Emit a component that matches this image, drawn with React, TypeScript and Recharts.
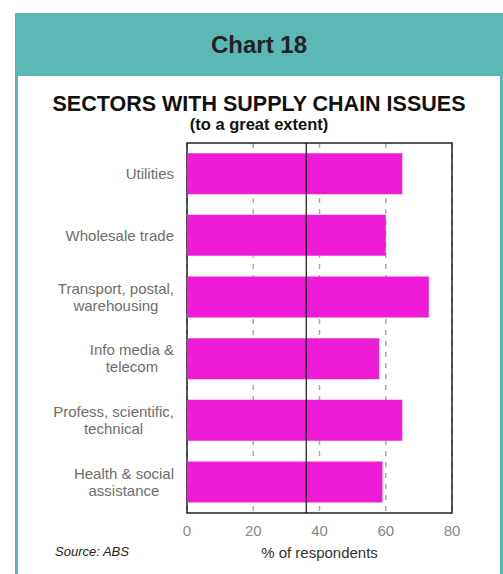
import React from 'react';
import { BarChart, Bar, XAxis, YAxis, CartesianGrid, ReferenceLine, ReferenceArea } from 'recharts';

// sectors, top to bottom
const sectors = [
  'Utilities',
  'Wholesale trade',
  'Transport, postal,\nwarehousing',
  'Info media &\ntelecom',
  'Profess, scientific,\ntechnical',
  'Health & social\nassistance',
];
const shares = [65, 60, 73, 58, 65, 59];
const xTicks = [0, 20, 40, 60, 80];
const averageShare = 36;

const data = sectors.map((name, i) => ({ name, value: shares[i] }));

const FONT = "'Liberation Sans', Arial, sans-serif";
const TEAL = '#5BB8B5';
const PINK = '#F01BD6';

let ctx: CanvasRenderingContext2D | null = null;
function textWidth(s: string) {
  if (!ctx) ctx = document.createElement('canvas').getContext('2d');
  if (!ctx) return s.length * 7.5;
  ctx.font = `15px ${FONT}`;
  return ctx.measureText(s).width;
}

// right-aligned block, each line centred inside it
function SectorTick(props: any) {
  const { x, y, payload } = props;
  const lines: string[] = String(payload.value).split('\n');
  const w = Math.max(...lines.map(textWidth));
  const cx = x - w / 2;
  return (
    <g>
      {lines.map((ln, i) => (
        <text key={i} x={cx} y={y + (i - (lines.length - 1) / 2) * 17 + 5}
          textAnchor="middle" fontSize={15} fill="#6e6e6e" fontFamily={FONT}>
          {ln}
        </text>
      ))}
    </g>
  );
}

export default function App() {
  return (
    <div style={{ position: 'fixed', left: 0, top: 0, width: 503, height: 574, overflow: 'hidden', background: '#fff', fontFamily: FONT }}>
      <style>{'html,body{margin:0;overflow:hidden;}'}</style>
      {/* card */}
      <div style={{ position: 'absolute', left: 15, top: 13, width: 482, height: 620, borderLeft: `3px solid ${TEAL}`, borderRight: `3px solid ${TEAL}` }} />
      <div style={{ position: 'absolute', left: 15, top: 13, width: 488, height: 63, background: TEAL, display: 'flex', alignItems: 'center', justifyContent: 'center' }}>
        <span style={{ fontSize: 24, fontWeight: 'bold', color: '#222' }}>Chart 18</span>
      </div>

      <div style={{ position: 'absolute', left: 15, width: 488, top: 92, textAlign: 'center', fontSize: 21.5, fontWeight: 'bold', color: '#111', lineHeight: '24px' }}>
        SECTORS WITH SUPPLY CHAIN ISSUES
      </div>
      <div style={{ position: 'absolute', left: 15, width: 488, top: 114, textAlign: 'center', fontSize: 16.5, fontWeight: 'bold', color: '#111', lineHeight: '20px' }}>
        (to a great extent)
      </div>
      <div style={{ position: 'absolute', left: 55, top: 544, fontSize: 13, fontStyle: 'italic', color: '#222' }}>
        Source: ABS
      </div>

      <div style={{ position: 'absolute', left: 0, top: 0 }}>
        <BarChart width={503} height={574} data={data} layout="vertical"
          margin={{ top: 143, right: 51, bottom: 0, left: 17 }} barCategoryGap="16.5%">
          <CartesianGrid horizontal={false} stroke="#aaa" strokeWidth={1.5} strokeDasharray="5 6" />
          <XAxis type="number" domain={[0, 80]} ticks={xTicks} height={61}
            axisLine={false} tickLine={false} tickSize={0} tickMargin={12}
            tick={{ fontSize: 15, fill: '#888', fontFamily: FONT }}
            label={{ value: '% of respondents', position: 'insideBottom', offset: 16, fontSize: 15, fill: '#333', fontFamily: FONT }} />
          <YAxis type="category" dataKey="name" width={170} axisLine={false} tickLine={false}
            tickSize={0} tickMargin={13} tick={<SectorTick />} interval={0} />
          <Bar dataKey="value" fill={PINK} isAnimationActive={false} />
          <ReferenceLine x={averageShare} stroke="#111" strokeWidth={1.2} />
          <ReferenceArea x1={0} x2={80} fill="none" stroke="#222" strokeWidth={1.5} ifOverflow="extendDomain" />
        </BarChart>
      </div>
    </div>
  );
}
